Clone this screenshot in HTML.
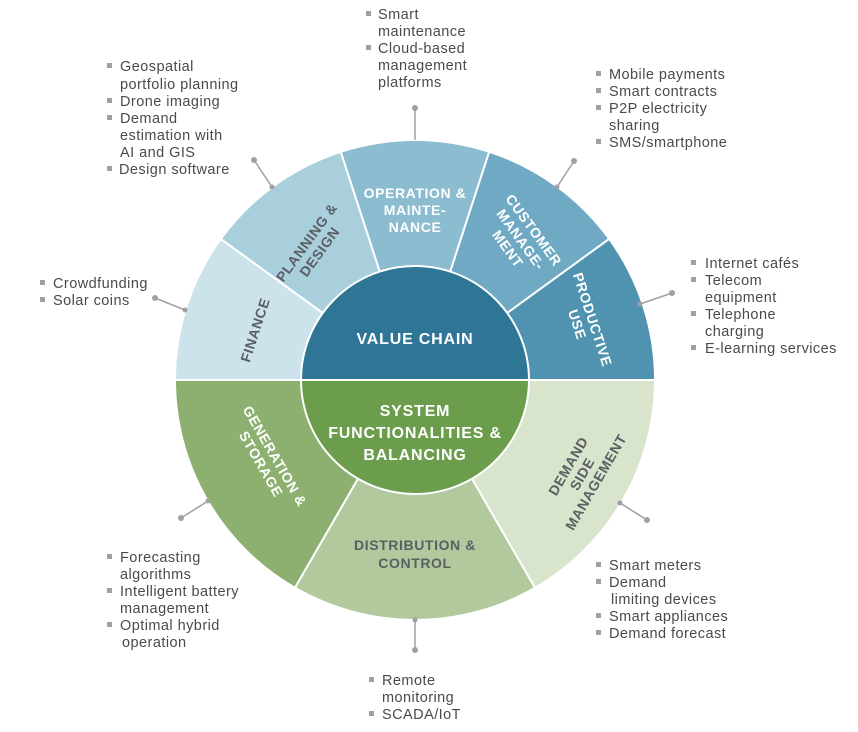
<!DOCTYPE html>
<html><head><meta charset="utf-8"><style>
html,body{margin:0;padding:0;background:#fff;width:858px;height:732px;overflow:hidden}
svg{display:block}
.c{font-family:"Liberation Sans",sans-serif;font-size:14.5px;letter-spacing:0.45px;fill:#4a4a4a}
.b{fill:#a0a0a0}
.s{font-family:"Liberation Sans",sans-serif;font-size:14px;letter-spacing:0.6px;font-weight:bold;text-anchor:middle}
.w{fill:#fff}.g{fill:#5a5f63}
</style></head><body>
<svg width="858" height="732" viewBox="0 0 858 732" xmlns="http://www.w3.org/2000/svg">
<g stroke="#fff" stroke-width="2">
<path d="M415,380 L175,380 A240,240 0 0,1 220.8,238.9 Z" fill="#cde3ec"/>
<path d="M415,380 L220.8,238.9 A240,240 0 0,1 340.8,151.8 Z" fill="#a9cfdd"/>
<path d="M415,380 L340.8,151.8 A240,240 0 0,1 489.2,151.8 Z" fill="#8cbcd0"/>
<path d="M415,380 L489.2,151.8 A240,240 0 0,1 609.2,238.9 Z" fill="#6fa9c3"/>
<path d="M415,380 L609.2,238.9 A240,240 0 0,1 655,380 Z" fill="#4f93b0"/>
<path d="M415,380 L175,380 A240,240 0 0,0 295,587.8 Z" fill="#8db070"/>
<path d="M415,380 L295,587.8 A240,240 0 0,0 535,587.8 Z" fill="#b2c99d"/>
<path d="M415,380 L535,587.8 A240,240 0 0,0 655,380 Z" fill="#d9e4cc"/>
<path d="M301,380 A114,114 0 0,1 529,380 Z" fill="#2e7596"/>
<path d="M301,380 A114,114 0 0,0 529,380 Z" fill="#6c9d4c"/>
</g>
<g font-family="Liberation Sans, sans-serif" font-weight="bold" fill="#fff" text-anchor="middle" font-size="16" letter-spacing="0.8">
<text x="415" y="344">VALUE CHAIN</text>
<text x="415" y="416">SYSTEM</text>
<text x="415" y="438">FUNCTIONALITIES &amp;</text>
<text x="415" y="460">BALANCING</text>
</g>
<text class="s g" transform="translate(255,330) rotate(-72)" y="5">FINANCE</text>
<text class="s g" transform="translate(313,247) rotate(-54)"><tspan x="0" y="-3">PLANNING &amp;</tspan><tspan x="0" y="13">DESIGN</tspan></text>
<text class="s w"><tspan x="415" y="198">OPERATION &amp;</tspan><tspan x="415" y="215">MAINTE-</tspan><tspan x="415" y="232">NANCE</tspan></text>
<text class="s w" transform="translate(520,240) rotate(54)"><tspan x="0" y="-12">CUSTOMER</tspan><tspan x="0" y="4">MANAGE-</tspan><tspan x="0" y="20">MENT</tspan></text>
<text class="s w" transform="translate(585,322) rotate(72)"><tspan x="0" y="-3">PRODUCTIVE</tspan><tspan x="0" y="13">USE</tspan></text>
<text class="s w" transform="translate(268,460) rotate(60)"><tspan x="0" y="-3">GENERATION &amp;</tspan><tspan x="0" y="13">STORAGE</tspan></text>
<text class="s g"><tspan x="415" y="550">DISTRIBUTION &amp;</tspan><tspan x="415" y="568">CONTROL</tspan></text>
<text class="s g" transform="translate(582,474) rotate(-60)"><tspan x="0" y="-11">DEMAND</tspan><tspan x="0" y="5">SIDE</tspan><tspan x="0" y="21">MANAGEMENT</tspan></text>
<g stroke="#a0a0a0" stroke-width="1.5">
<line x1="415" y1="108" x2="415" y2="140"/><line x1="254" y1="160" x2="272" y2="187"/>
<line x1="574" y1="161" x2="557" y2="187"/><line x1="672" y1="293" x2="640" y2="304"/>
<line x1="155" y1="298" x2="185" y2="310"/><line x1="181" y1="518" x2="208" y2="501"/>
<line x1="620" y1="503" x2="647" y2="520"/><line x1="415" y1="620" x2="415" y2="650"/>
</g>
<g fill="#a0a0a0">
<circle cx="415" cy="108" r="3"/><circle cx="254" cy="160" r="3"/><circle cx="574" cy="161" r="3"/>
<circle cx="672" cy="293" r="3"/><circle cx="155" cy="298" r="3"/><circle cx="181" cy="518" r="3"/>
<circle cx="647" cy="520" r="3"/><circle cx="415" cy="650" r="3"/>
<circle cx="185" cy="310" r="2.5"/><circle cx="208" cy="501" r="2.5"/><circle cx="620" cy="503" r="2.5"/>
<circle cx="272" cy="187" r="2.5"/><circle cx="557" cy="187" r="2.5"/><circle cx="640" cy="304" r="2.5"/>
<circle cx="415" cy="620" r="2.5"/>
</g>
<g class="b">
<rect x="366" y="11" width="5" height="5"/><rect x="366" y="45" width="5" height="5"/>
<rect x="107" y="63" width="5" height="5"/><rect x="107" y="98" width="5" height="5"/><rect x="107" y="115" width="5" height="5"/><rect x="107" y="166" width="5" height="5"/>
<rect x="596" y="71" width="5" height="5"/><rect x="596" y="88" width="5" height="5"/><rect x="596" y="105" width="5" height="5"/><rect x="596" y="139" width="5" height="5"/>
<rect x="691" y="260" width="5" height="5"/><rect x="691" y="277" width="5" height="5"/><rect x="691" y="311" width="5" height="5"/><rect x="691" y="345" width="5" height="5"/>
<rect x="40" y="280" width="5" height="5"/><rect x="40" y="297" width="5" height="5"/>
<rect x="107" y="554" width="5" height="5"/><rect x="107" y="588" width="5" height="5"/><rect x="107" y="622" width="5" height="5"/>
<rect x="596" y="562" width="5" height="5"/><rect x="596" y="579" width="5" height="5"/><rect x="596" y="613" width="5" height="5"/><rect x="596" y="630" width="5" height="5"/>
<rect x="369" y="677" width="5" height="5"/><rect x="369" y="711" width="5" height="5"/>
</g>
<text class="c"><tspan x="378" y="19">Smart</tspan><tspan x="378" y="36">maintenance</tspan><tspan x="378" y="53">Cloud-based</tspan><tspan x="378" y="70">management</tspan><tspan x="378" y="87">platforms</tspan></text>
<text class="c"><tspan x="120" y="71">Geospatial</tspan><tspan x="120" y="89">portfolio planning</tspan><tspan x="120" y="106">Drone imaging</tspan><tspan x="120" y="123">Demand</tspan><tspan x="120" y="140">estimation with</tspan><tspan x="120" y="157">AI and GIS</tspan><tspan x="119" y="174">Design software</tspan></text>
<text class="c"><tspan x="609" y="79">Mobile payments</tspan><tspan x="609" y="96">Smart contracts</tspan><tspan x="609" y="113">P2P electricity</tspan><tspan x="609" y="130">sharing</tspan><tspan x="609" y="147">SMS/smartphone</tspan></text>
<text class="c"><tspan x="705" y="268">Internet cafés</tspan><tspan x="705" y="285">Telecom</tspan><tspan x="705" y="302">equipment</tspan><tspan x="705" y="319">Telephone</tspan><tspan x="705" y="336">charging</tspan><tspan x="705" y="353">E-learning services</tspan></text>
<text class="c"><tspan x="53" y="288">Crowdfunding</tspan><tspan x="53" y="305">Solar coins</tspan></text>
<text class="c"><tspan x="120" y="562">Forecasting</tspan><tspan x="120" y="579">algorithms</tspan><tspan x="120" y="596">Intelligent battery</tspan><tspan x="120" y="613">management</tspan><tspan x="120" y="630">Optimal hybrid</tspan><tspan x="122" y="647">operation</tspan></text>
<text class="c"><tspan x="609" y="570">Smart meters</tspan><tspan x="609" y="587">Demand</tspan><tspan x="611" y="604">limiting devices</tspan><tspan x="609" y="621">Smart appliances</tspan><tspan x="609" y="638">Demand forecast</tspan></text>
<text class="c"><tspan x="382" y="685">Remote</tspan><tspan x="382" y="702">monitoring</tspan><tspan x="382" y="719">SCADA/IoT</tspan></text>
</svg>
</body></html>
